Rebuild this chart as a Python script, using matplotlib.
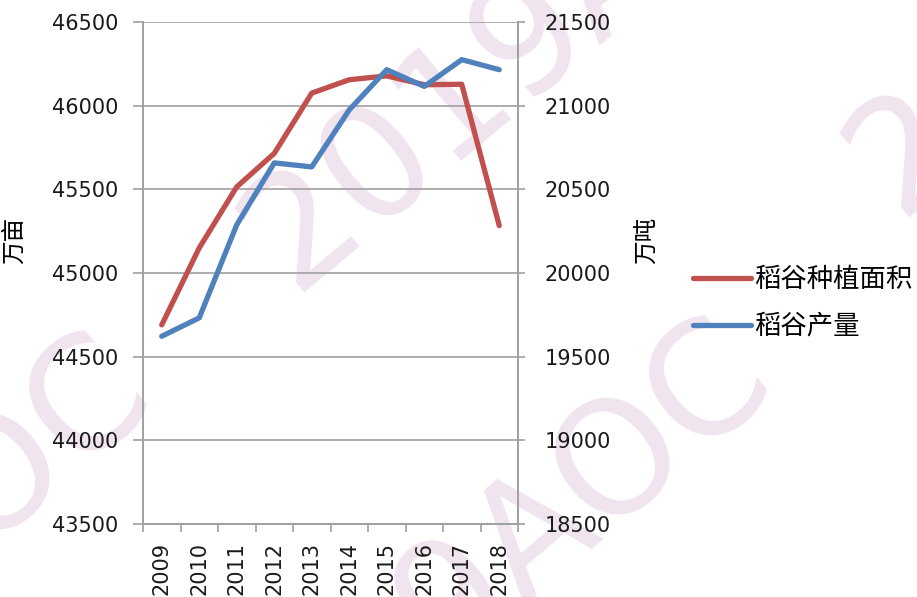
import matplotlib
matplotlib.use("Agg")
import numpy as np
import matplotlib.pyplot as plt

plt.rcParams['font.family'] = ['DejaVu Sans', 'Noto Sans CJK SC']

years = ['2009', '2010', '2011', '2012', '2013', '2014', '2015', '2016', '2017', '2018']
area = [44690, 45150, 45515, 45715, 46075, 46155, 46178, 46125, 46128, 45283]      # 万亩
output = [19622, 19732, 20288, 20658, 20634, 20975, 21215, 21115, 21275, 21215]    # 万吨
area_name = '稻谷种植面积'
output_name = '稻谷产量'

red = '#C0504D'
blue = '#4F81BD'
grid_c = '#A0A0A0'
cjk = ['Noto Sans CJK SC', 'DejaVu Sans']

fig = plt.figure(figsize=(9.17, 5.97), dpi=100)

# watermark, drawn behind everything
for cx, cy in [(545, 25), (470, 585), (-150, 600), (1150, -50)]:
    fig.text(cx / 917, 1 - cy / 597, '2019AOC', fontsize=112, color='#F0E4EF',
             rotation=40, rotation_mode='anchor', ha='center', va='center',
             zorder=-5)

ax = fig.add_axes([143 / 917, 1 - 524 / 597, 375 / 917, 502 / 597])
ax.patch.set_alpha(0)
x = np.arange(len(years))

ax.plot(x, area, color=red, lw=3.8, solid_capstyle='round', label=area_name, zorder=3)
ax.set_ylim(43500, 46500)
ax.set_yticks(np.arange(43500, 46501, 500))
ax.set_xlim(-0.5, len(years) - 0.5)
ax.yaxis.grid(True, color=grid_c, lw=1.2)
ax.set_axisbelow(True)

ax2 = ax.twinx()
ax2.plot(x, output, color=blue, lw=3.8, solid_capstyle='round', label=output_name, zorder=3)
ax2.set_ylim(18500, 21500)
ax2.set_yticks(np.arange(18500, 21501, 500))

for a in (ax, ax2):
    for s in a.spines.values():
        s.set_color(grid_c)
        s.set_linewidth(1.2)
    a.spines['top'].set_visible(False)

ax.tick_params(axis='y', direction='out', length=7, width=1.2, color=grid_c,
               labelsize=15, pad=11, labelcolor='#1a1a1a')
ax2.tick_params(axis='y', direction='out', length=5, width=1.2, color=grid_c,
                labelsize=15, pad=14, labelcolor='#1a1a1a')

# category labels at centres, tick marks at boundaries
ax.set_xticks(x)
ax.set_xticklabels(years, rotation=90)
ax.set_xticks(np.arange(-0.5, len(years), 1), minor=True)
ax.tick_params(axis='x', which='major', length=0, labelsize=15, pad=13, labelcolor='#1a1a1a')
ax.tick_params(axis='x', which='minor', direction='out', length=6, width=1.2, color=grid_c)

ax.set_ylabel('万亩', family=cjk, fontsize=17, rotation=90)
ax.yaxis.set_label_coords((26 - 143) / 375, (524 - 240) / 502)
ax2.set_ylabel('万吨', family=cjk, fontsize=17, rotation=90)
ax2.yaxis.set_label_coords((635 - 143) / 375, (524 - 240) / 502)

h1, l1 = ax.get_legend_handles_labels()
h2, l2 = ax2.get_legend_handles_labels()
fig.legend(h1 + h2, l1 + l2, loc='center left', bbox_to_anchor=(693 / 917, 1 - 303 / 597),
           frameon=False, prop={'family': cjk, 'size': 19}, handlelength=2.2,
           handletextpad=0.1, labelspacing=0.75, borderpad=0, borderaxespad=0)

fig.savefig('out.png', dpi=100)
